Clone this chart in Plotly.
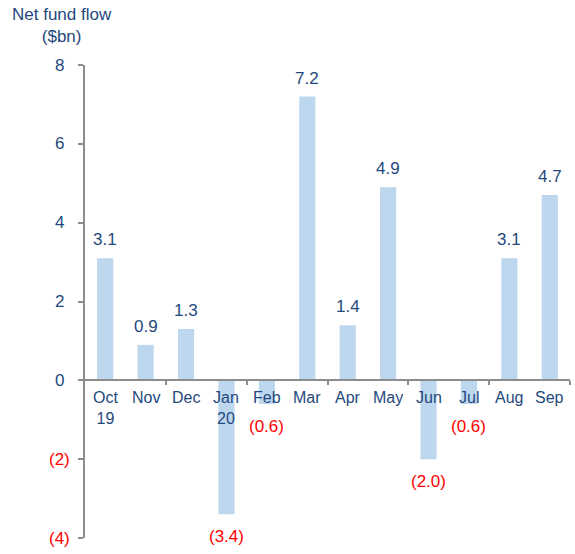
import plotly.graph_objects as go

categories = ["Oct<br>19", "Nov", "Dec", "Jan<br>20", "Feb", "Mar", "Apr", "May", "Jun", "Jul", "Aug", "Sep"]
values = [3.1, 0.9, 1.3, -3.4, -0.6, 7.2, 1.4, 4.9, -2.0, -0.6, 3.1, 4.7]
y_ticks = [8, 6, 4, 2, 0, -2, -4]
y_tick_labels = ["8", "6", "4", "2", "0", "(2)", "(4)"]

BLUE_TEXT = "#1F497D"
RED = "#FF0000"
BAR = "#BDD7EE"
AXIS = "#8C8C8C"
FONT = "Liberation Sans, Arial, sans-serif"

x = list(range(len(categories)))

fig = go.Figure()
fig.add_trace(go.Bar(x=x, y=values, marker=dict(color=BAR, line=dict(width=0)),
                     width=0.4, hoverinfo="skip"))

ann = []
for i, v in enumerate(values):
    if v >= 0:
        ann.append(dict(x=i, y=v, text=f"{v:.1f}", showarrow=False, yanchor="bottom",
                        yshift=7, font=dict(size=17, color=BLUE_TEXT, family=FONT)))
    else:
        ann.append(dict(x=i, y=v, text=f"({abs(v):.1f})", showarrow=False, yanchor="top",
                        yshift=-11, font=dict(size=17, color=RED, family=FONT)))
for i, c in enumerate(categories):
    ann.append(dict(x=i, y=0, text=c, showarrow=False, yanchor="top", yshift=-7,
                    font=dict(size=16, color=BLUE_TEXT, family=FONT)))
for v, t in zip(y_ticks, y_tick_labels):
    ann.append(dict(x=-0.0536, xref="paper", y=v, yref="y", text=t, showarrow=False,
                    xanchor="center", yanchor="middle",
                    font=dict(size=17, color=RED if v < 0 else BLUE_TEXT, family=FONT)))
ann.append(dict(x=-0.047, xref="paper", y=1.131, yref="paper", text="Net fund flow<br>($bn)",
                showarrow=False, xanchor="center", yanchor="top",
                font=dict(size=17, color=BLUE_TEXT, family=FONT)))

fig.update_layout(
    width=575, height=554,
    margin=dict(l=85, r=5, t=65, b=16),
    paper_bgcolor="white", plot_bgcolor="white",
    showlegend=False,
    annotations=ann,
    xaxis=dict(range=[-0.5, 11.5], anchor="free", position=1/3,
               tickvals=[1.5, 3.5, 5.5, 7.5, 9.5, 11.5], ticktext=[""] * 6,
               ticks="outside", ticklen=4, tickcolor=AXIS, tickwidth=1.5,
               showline=True, linecolor=AXIS, linewidth=1.5,
               showgrid=False, zeroline=False, fixedrange=True),
    yaxis=dict(range=[-4, 8], tickvals=y_ticks, showticklabels=False,
               ticks="outside", ticklen=5, tickcolor=AXIS, tickwidth=1.5,
               showline=True, linecolor=AXIS, linewidth=1.5,
               showgrid=False, zeroline=False, fixedrange=True),
)
fig.write_html("out.html")
